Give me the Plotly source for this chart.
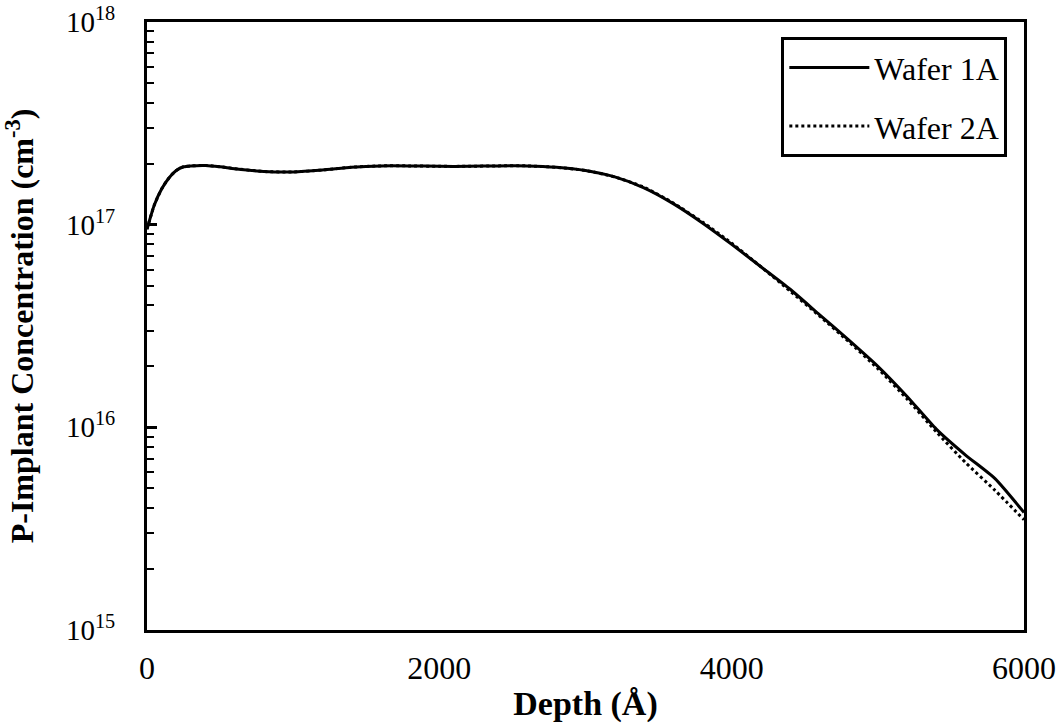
import plotly.graph_objects as go

depth = [0, 50, 100, 150, 200, 250, 300, 400, 500, 600, 800, 1000, 1200, 1400, 1600,
         1800, 2000, 2200, 2400, 2600, 2800, 3000, 3200, 3400, 3600, 3800, 4000,
         4200, 4400, 4600, 4800, 5000, 5200, 5400, 5600, 5800, 6000]

wafer_1a = [0.95e17, 1.25e17, 1.5e17, 1.7e17, 1.85e17, 1.93e17, 1.95e17, 1.96e17, 1.93e17,
            1.89e17, 1.83e17, 1.82e17, 1.86e17, 1.92e17, 1.95e17, 1.95e17, 1.94e17,
            1.94e17, 1.95e17, 1.95e17, 1.92e17, 1.85e17, 1.72e17, 1.52e17, 1.27e17,
            1.02e17, 0.80e17, 0.62e17, 0.48e17, 0.36e17, 0.27e17, 0.20e17, 0.142e17,
            0.098e17, 0.073e17, 0.056e17, 0.038e17]

wafer_2a = [0.95e17, 1.25e17, 1.5e17, 1.7e17, 1.85e17, 1.93e17, 1.95e17, 1.96e17, 1.93e17,
            1.89e17, 1.83e17, 1.82e17, 1.86e17, 1.92e17, 1.95e17, 1.95e17, 1.94e17,
            1.94e17, 1.95e17, 1.95e17, 1.92e17, 1.85e17, 1.72e17, 1.53e17, 1.28e17,
            1.03e17, 0.81e17, 0.62e17, 0.47e17, 0.355e17, 0.265e17, 0.195e17, 0.138e17,
            0.095e17, 0.067e17, 0.049e17, 0.035e17]

y_tickvals = [1e15, 1e16, 1e17, 1e18]
y_ticktext = ["10<sup>15</sup>", "10<sup>16</sup>", "10<sup>17</sup>", "10<sup>18</sup>"]
x_tickvals = [0, 2000, 4000, 6000]
minor_vals = [m * 10 ** e for e in (15, 16, 17) for m in range(2, 10)]

FAM = "Liberation Serif"

fig = go.Figure()
fig.add_trace(go.Scatter(x=depth, y=wafer_1a, mode="lines", name="Wafer 1A", legendgroup="a",
                         line=dict(color="black", width=3, shape="spline", smoothing=0.6)))
fig.add_trace(go.Scatter(x=depth, y=wafer_2a, mode="lines", name="Wafer 2A", legendgroup="b",
                         line=dict(color="black", width=3, dash="dot", shape="spline", smoothing=0.6)))

fig.update_layout(
    width=1062, height=723,
    margin=dict(l=147, r=38, t=22, b=93),
    plot_bgcolor="white", paper_bgcolor="white",
    font=dict(family=FAM, size=32, color="black"),
    showlegend=True,
    legend=dict(x=0.981, y=0.975, xanchor="right", yanchor="top",
                bordercolor="black", borderwidth=3, bgcolor="white",
                font=dict(family=FAM, size=32, color="black"), itemwidth=80, tracegroupgap=14),
    xaxis=dict(range=[0, 6000], tickvals=x_tickvals, ticks="", showgrid=False,
               showline=True, linecolor="black", linewidth=3, mirror=True,
               zeroline=False, ticklabelstandoff=8, automargin=False,
               tickfont=dict(family=FAM, size=32, color="black"),
               title=dict(text="<b>Depth (Å)</b>", font=dict(family=FAM, size=34, color="black"),
                          standoff=6)),
    yaxis=dict(type="log", range=[15, 18], tickmode="array", tickvals=y_tickvals,
               ticktext=y_ticktext, ticks="inside", ticklen=10, tickwidth=3, tickcolor="black",
               showgrid=False, showline=True, linecolor="black", linewidth=3, mirror=True,
               zeroline=False, ticklabelstandoff=23, automargin=False,
               tickfont=dict(family=FAM, size=29, color="black"),
               minor=dict(tickmode="array", tickvals=minor_vals, ticks="inside", ticklen=7,
                          tickwidth=2, tickcolor="black", showgrid=False),
               title=dict(text="<b>P-Implant Concentration (cm<sup>-3</sup>)</b>",
                          font=dict(family=FAM, size=32, color="black"), standoff=30)),
)

fig.write_html("out.html")
